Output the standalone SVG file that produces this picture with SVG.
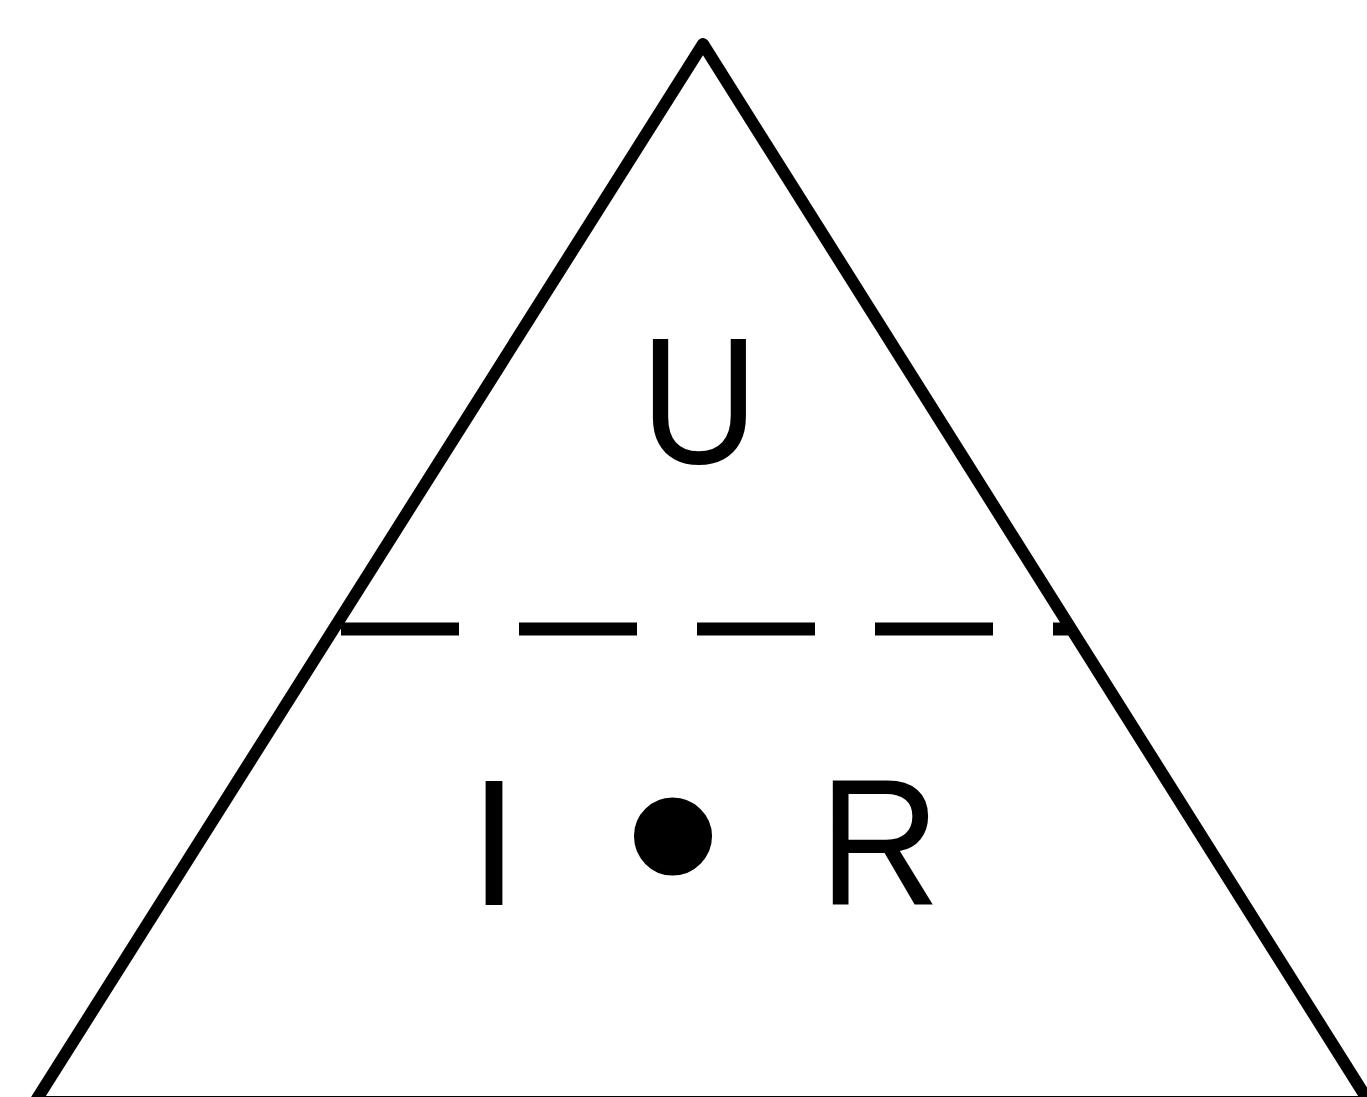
<svg xmlns="http://www.w3.org/2000/svg" width="1367" height="1097" viewBox="0 0 1367 1097">
<style>
.edge{fill:none;stroke:#000;stroke-width:12;stroke-linejoin:round}
.dash{fill:none;stroke:#000;stroke-width:13;stroke-dasharray:118 60}
.lbl{font-family:"Liberation Sans",Arial,sans-serif;font-size:180px;fill:#000}
</style>
<rect width="1367" height="1097" fill="#fff"/>
<g id="triangle">
<polygon class="edge" points="703,44 35,1102 1369,1102"/>
</g>
<g id="connectors">
<line class="dash" x1="341" y1="629" x2="1070" y2="629"/>
</g>
<g id="node-U"><text class="lbl" transform="translate(653,0) scale(0.91,1) translate(-653,0)" x="639" y="463">U</text></g>
<g id="node-I"><text class="lbl" x="469" y="905">I</text></g>
<g id="node-dot"><text class="lbl" x="673" y="932" text-anchor="middle" style="font-size:288px">•</text></g>
<g id="node-R"><text class="lbl" transform="translate(832,0) scale(0.935,1) translate(-832,0)" x="818" y="905">R</text></g>
</svg>
